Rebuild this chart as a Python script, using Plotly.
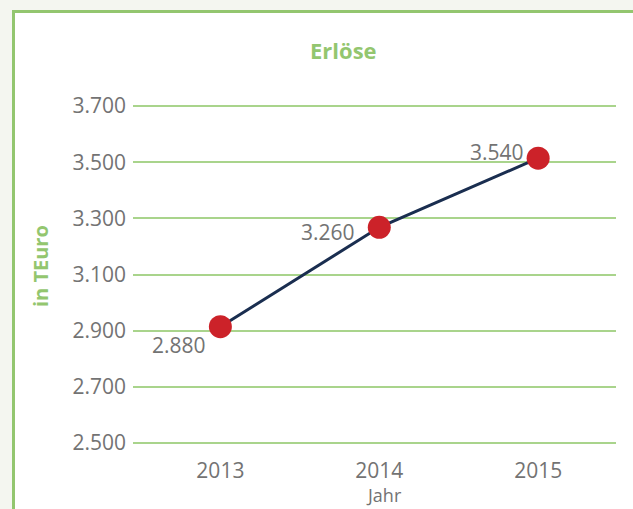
import plotly.graph_objects as go

W, H = 633, 509
years = ["2013", "2014", "2015"]
values = [2914, 3268, 3514]
labels = ["2.880", "3.260", "3.540"]
label_dx = [-12, -22, -12]
label_dy = [-18, -5, 6]
y_ticks = [2500, 2700, 2900, 3100, 3300, 3500, 3700]

green = "#93c66f"
grid = "#a9d48c"
gray = "#737373"
font = "Open Sans"

def px(x):
    return x / W

def py(y):
    return 1 - y / H

fig = go.Figure()
fig.add_trace(go.Scatter(
    x=list(range(len(years))), y=values,
    mode="lines+markers",
    line=dict(color="#1a2e50", width=3),
    marker=dict(color="#cc2229", size=23),
    cliponaxis=False, hoverinfo="skip",
))

annotations = [
    dict(text=t, x=i, y=v, xref="x", yref="y", showarrow=False,
         xanchor="right", yanchor="middle", xshift=dx, yshift=dy,
         font=dict(family=font, size=21, color=gray))
    for i, (t, v, dx, dy) in enumerate(zip(labels, values, label_dx, label_dy))
]
annotations += [
    dict(text="<b>Erlöse</b>", xref="paper", yref="paper",
         x=px(343), y=py(50), showarrow=False,
         xanchor="center", yanchor="middle",
         font=dict(family=font, size=22, color=green)),
    dict(text="<b>in TEuro</b>", xref="paper", yref="paper",
         x=px(40), y=py(266), showarrow=False, textangle=-90,
         xanchor="center", yanchor="middle",
         font=dict(family=font, size=20, color=green)),
    dict(text="Jahr", xref="paper", yref="paper",
         x=px(384), y=py(495), showarrow=False,
         xanchor="center", yanchor="middle",
         font=dict(family=font, size=18, color=gray)),
]

fig.update_layout(
    template="none",
    width=W, height=H, autosize=False,
    margin=dict(l=0, r=0, t=0, b=0, pad=0, autoexpand=False),
    paper_bgcolor="#f4f6f0",
    plot_bgcolor="rgba(0,0,0,0)",
    showlegend=False,
    separators=",.",
    xaxis=dict(
        domain=[px(133), px(616)],
        range=[-0.55, 2.49],
        tickvals=list(range(len(years))), ticktext=years,
        showgrid=False, zeroline=False, showline=False, automargin=False,
        tickfont=dict(family=font, size=21, color=gray),
        ticks="", ticklabelstandoff=11,
    ),
    yaxis=dict(
        domain=[py(444.7), py(104.3)],
        range=[2494, 3706],
        tickvals=y_ticks, tickformat=",.0f",
        showgrid=True, gridcolor=grid, gridwidth=1.5,
        zeroline=False, showline=False, automargin=False,
        tickfont=dict(family=font, size=21, color=gray),
        ticks="", ticklabelstandoff=6,
    ),
    shapes=[dict(
        type="rect", xref="paper", yref="paper", layer="below",
        x0=px(13.5), x1=px(W + 10), y0=py(H + 10), y1=py(11.5),
        line=dict(color=green, width=3), fillcolor="white",
    )],
    annotations=annotations,
)

fig.write_html("out.html", config={"displayModeBar": False},
               post_script="document.body.style.margin='0';")
